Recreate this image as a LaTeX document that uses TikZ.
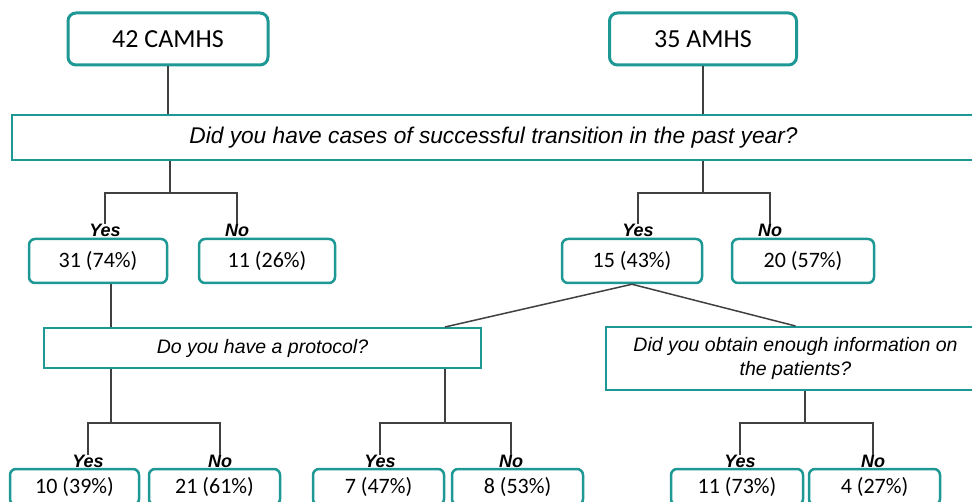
\documentclass[tikz,border=0pt]{standalone}
\usepackage{fontspec}
\setmainfont{Carlito}
\newfontfamily\arialfont{Liberation Sans}
\usepackage{tikz}
\definecolor{boxteal}{RGB}{30,152,148}
\definecolor{linegray}{RGB}{64,64,64}

\begin{document}
\begin{tikzpicture}[
    x=1pt, y=-1pt,
    groupbox/.style={shape=rectangle, rounded corners=8pt, draw=boxteal, line width=3pt, fill=white, inner sep=0pt, minimum height=52pt, font=\fontsize{26}{30}\selectfont},
    countbox/.style={shape=rectangle, rounded corners=6pt, draw=boxteal, line width=2.5pt, fill=white, inner sep=0pt, font=\fontsize{22}{26}\selectfont},
    questionbox/.style={shape=rectangle, draw=boxteal, line width=2pt, fill=white, inner sep=0pt, align=center, font=\arialfont\itshape\fontsize{19.5}{24}\selectfont},
    answer/.style={inner sep=0pt, font=\arialfont\bfseries\itshape\fontsize{18}{20}\selectfont},
    branch/.style={draw=linegray, line width=1.5pt},
]
\useasboundingbox (0, 0) rectangle (972, 502);
\clip (0, 0) rectangle (972, 502);

\node[groupbox, minimum width=200pt] (camhs) at (168, 39) {42 CAMHS};
\node[groupbox, minimum width=187pt] (amhs) at (703, 39) {35 AMHS};
\node[questionbox, minimum width=963pt, minimum height=45pt, font=\arialfont\itshape\fontsize{22.7}{26}\selectfont] (q1) at (493.5, 137.5) {Did you have cases of successful transition in the past year?};

\node[answer] (yes1) at (105, 230) {Yes};
\node[answer] (no1) at (237, 230) {No};
\node[answer] (yes2) at (638, 230) {Yes};
\node[answer] (no2) at (770, 230) {No};
\node[countbox, minimum width=138pt, minimum height=44pt] (c31) at (98, 261) {31 (74\%)};
\node[countbox, minimum width=136pt, minimum height=44pt] (c11) at (267, 261) {11 (26\%)};
\node[countbox, minimum width=140pt, minimum height=44pt] (c15) at (632, 261) {15 (43\%)};
\node[countbox, minimum width=142pt, minimum height=44pt] (c20) at (803, 261) {20 (57\%)};

\node[questionbox, minimum width=437pt, minimum height=40pt] (qprot) at (262.5, 348) {Do you have a protocol?};
\node[questionbox, minimum width=379pt, minimum height=63pt] (qinfo) at (795.5, 358.5) {Did you obtain enough information on\\the patients?};

\node[answer] (yes3) at (88, 461) {Yes};
\node[answer] (no3) at (220, 461) {No};
\node[answer] (yes4) at (380, 461) {Yes};
\node[answer] (no4) at (511, 461) {No};
\node[answer] (yes5) at (740, 461) {Yes};
\node[answer] (no5) at (873, 461) {No};
\node[countbox, minimum width=129pt, minimum height=36pt] (b10) at (74.5, 487) {10 (39\%)};
\node[countbox, minimum width=131pt, minimum height=36pt] (b21) at (214.5, 487) {21 (61\%)};
\node[countbox, minimum width=131pt, minimum height=36pt] (b7) at (378.5, 487) {7 (47\%)};
\node[countbox, minimum width=131pt, minimum height=36pt] (b8) at (517.5, 487) {8 (53\%)};
\node[countbox, minimum width=132pt, minimum height=36pt] (b11) at (737, 487) {11 (73\%)};
\node[countbox, minimum width=131pt, minimum height=36pt] (b4) at (874.5, 487) {4 (27\%)};

% branch points
\coordinate (q1l) at (170, 193);
\coordinate (q1r) at (703, 193);
\coordinate (pl) at (111, 423);
\coordinate (pr) at (445, 423);
\coordinate (ir) at (805, 423);

\draw[branch] (camhs.south) -- (camhs.south |- q1.north);
\draw[branch] (amhs.south) -- (amhs.south |- q1.north);
\draw[branch] (q1l |- q1.south) -- (q1l);
\draw[branch] (yes1.north) |- (q1l) -| (no1.north);
\draw[branch] (q1r |- q1.south) -- (q1r);
\draw[branch] (yes2.north) |- (q1r) -| (no2.north);
\draw[branch] (pl |- c31.south) -- (pl |- qprot.north);
\draw[branch] (c15.south) -- (pr |- qprot.north);
\draw[branch] (c15.south) -- (qinfo.north);
\draw[branch] (pl |- qprot.south) -- (pl);
\draw[branch] (yes3.north) |- (pl) -| (no3.north);
\draw[branch] (pr |- qprot.south) -- (pr);
\draw[branch] (yes4.north) |- (pr) -| (no4.north);
\draw[branch] (ir |- qinfo.south) -- (ir);
\draw[branch] (yes5.north) |- (ir) -| (no5.north);
\end{tikzpicture}
\end{document}
